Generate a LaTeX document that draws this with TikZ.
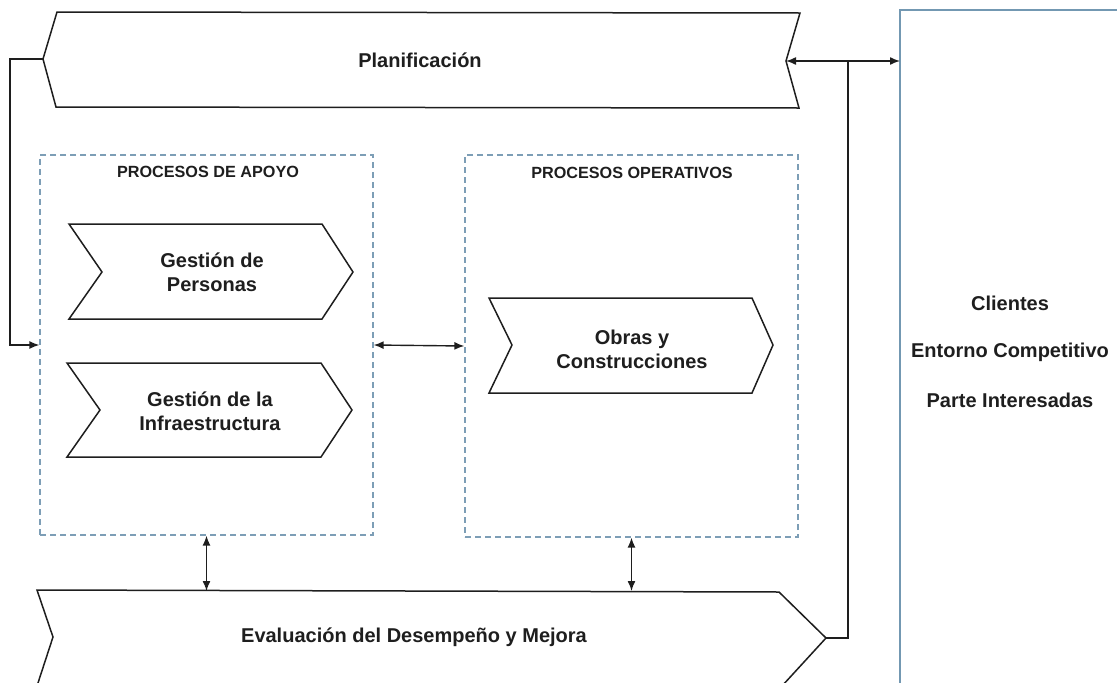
\documentclass[tikz,border=0pt]{standalone}
\usepackage{fontspec}
\setmainfont{Liberation Sans}
\usetikzlibrary{arrows.meta}
\definecolor{ink}{RGB}{30,30,30}
\definecolor{dashblue}{RGB}{125,158,182}
\definecolor{boxblue}{RGB}{115,152,178}
\tikzset{
  chev/.style={draw=ink, line width=1.5pt, line join=miter, fill=white},
  lbl/.style={text=ink, font=\fontsize{20}{24}\selectfont\bfseries, align=center, inner sep=0pt},
  ttl/.style={text=ink, font=\fontsize{16.2}{18}\selectfont\bfseries, inner sep=0pt},
  dbox/.style={draw=dashblue, line width=1.3pt, dash pattern=on 6pt off 4pt, inner sep=0pt},
  conn/.style={draw=ink, line width=1.4pt},
  tip/.style={-{Latex[length=10pt,width=8pt]}},
  tips/.style={{Latex[length=10pt,width=8pt]}-{Latex[length=10pt,width=8pt]}}
}
\begin{document}
\begin{tikzpicture}[x=1pt,y=-1pt]
\useasboundingbox (0,0) rectangle (1117,683);
% client box
\node[draw=boxblue, line width=1.4pt, minimum width=260pt, minimum height=700pt, inner sep=0pt] (cli) at (1030,360) {};
\node[lbl] (t1) at (1010,303) {Clientes};
\node[lbl] (t2) at (1010,352) {Entorno Competitivo};
\node[lbl] (t3) at (1010,400) {Parte Interesadas};
% Planificacion
\coordinate (planL) at (43,59);
\coordinate (planR) at (786,61);
\path[chev] (57,12) -- (800,13) -- (planR) -- (799,108) -- (56,107) -- (planL) -- cycle;
\node[lbl] (plan) at (420,60) {Planificación};
% Evaluacion
\coordinate (evL) at (53,637);
\coordinate (evR) at (826,638);
\coordinate (evtop) at (0,591);
\path[chev] (37,590) -- (779,592) -- (evR) -- (782,686) -- (37,686) -- (evL) -- cycle;
\node[lbl] (eval) at (414,637) {Evaluación del Desempeño y Mejora};
% dashed boxes
\node[dbox, minimum width=333pt, minimum height=380pt] (apoyo) at (206.5,345) {};
\node[dbox, minimum width=333pt, minimum height=382pt] (oper) at (631.5,346) {};
\node[ttl] (ta) at (208,172) {PROCESOS DE APOYO};
\node[ttl] (to) at (632,173) {PROCESOS OPERATIVOS};
% Gestion de Personas
\path[chev] (69,224) -- (322,224) -- (353,272) -- (322,319) -- (69,319) -- (102,272) -- cycle;
\node[lbl] (gp) at (212,272) {Gestión de\\Personas};
% Gestion de la Infraestructura
\path[chev] (67,363) -- (321,363) -- (352,410) -- (321,457) -- (67,457) -- (100,410) -- cycle;
\node[lbl] (gi) at (210,411) {Gestión de la\\Infraestructura};
% Obras y Construcciones
\path[chev] (489,298) -- (752,298) -- (773,345) -- (752,393) -- (489,393) -- (512,345) -- cycle;
\node[lbl] (oc) at (632,349) {Obras y\\Construcciones};
% connectors
\coordinate (cliIn) at (900,61);
\coordinate (junc) at (848,61);
\coordinate (lc) at (10,59);
\draw[conn, tips] (planR) -- (cliIn);
\draw[conn] (junc) |- (evR);
\draw[conn, tip] (planL) -- (lc) |- (apoyo.west);
\draw[conn, tips] (apoyo.east) -- (oper.west);
\draw[conn, tips] (apoyo.south) -- (apoyo.south |- evtop);
\draw[conn, tips] (oper.south) -- (oper.south |- evtop);
\end{tikzpicture}
\end{document}
